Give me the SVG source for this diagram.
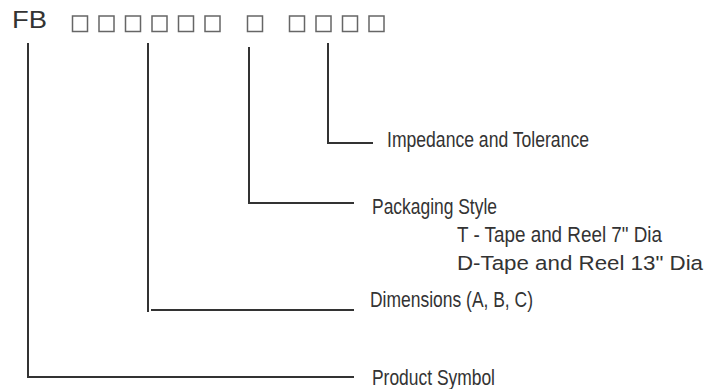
<svg xmlns="http://www.w3.org/2000/svg" width="720" height="389" viewBox="0 0 720 389">
<style>
.lbl{font-family:"Liberation Sans",Arial,sans-serif;font-size:22px;fill:#333}
.reg{font-family:"Liberation Sans",Arial,sans-serif;font-size:20.5px;fill:#333}
.code{font-family:"Liberation Sans",Arial,sans-serif;font-size:23px;fill:#333}
.bx{fill:none;stroke:#666;stroke-width:1.5}
.ln{fill:none;stroke:#333;stroke-width:2}
</style>
<defs><rect id="sq" width="15" height="15.5"/></defs>
<rect width="720" height="389" fill="#fff"/>
<g id="code">
<text class="code" x="12" y="28" textLength="35" lengthAdjust="spacingAndGlyphs">FB</text>
<g class="bx">
<use href="#sq" x="72.5" y="16"/>
<use href="#sq" x="99" y="16"/>
<use href="#sq" x="125.5" y="16"/>
<use href="#sq" x="152" y="16"/>
<use href="#sq" x="178.5" y="16"/>
<use href="#sq" x="205" y="16"/>
<use href="#sq" x="247.5" y="16"/>
<use href="#sq" x="289.5" y="16"/>
<use href="#sq" x="316" y="16"/>
<use href="#sq" x="342.5" y="16"/>
<use href="#sq" x="369" y="16"/>
</g>
</g>
<g id="connectors">
<polyline class="ln" points="28,43 28,377 354,377"/>
<polyline class="ln" points="148,43 148,312"/>
<line class="ln" x1="151" y1="310" x2="354" y2="310"/>
<polyline class="ln" points="249,47 249,203 354,203"/>
<polyline class="ln" points="328,43 328,143 373,143"/>
</g>
<g id="impedance">
<text class="lbl" x="387" y="147" textLength="202" lengthAdjust="spacingAndGlyphs">Impedance and Tolerance</text>
</g>
<g id="packaging">
<text class="lbl" x="372" y="214" textLength="125" lengthAdjust="spacingAndGlyphs">Packaging Style</text>
<text class="lbl" x="457" y="242" textLength="205" lengthAdjust="spacingAndGlyphs">T - Tape and Reel 7" Dia</text>
<text class="reg" x="457" y="270" textLength="246" lengthAdjust="spacingAndGlyphs">D-Tape and Reel 13" Dia</text>
</g>
<g id="dimensions">
<text class="lbl" x="370" y="307" textLength="163" lengthAdjust="spacingAndGlyphs">Dimensions (A, B, C)</text>
</g>
<g id="product">
<text class="lbl" x="372" y="385" textLength="123" lengthAdjust="spacingAndGlyphs">Product Symbol</text>
</g>
</svg>
